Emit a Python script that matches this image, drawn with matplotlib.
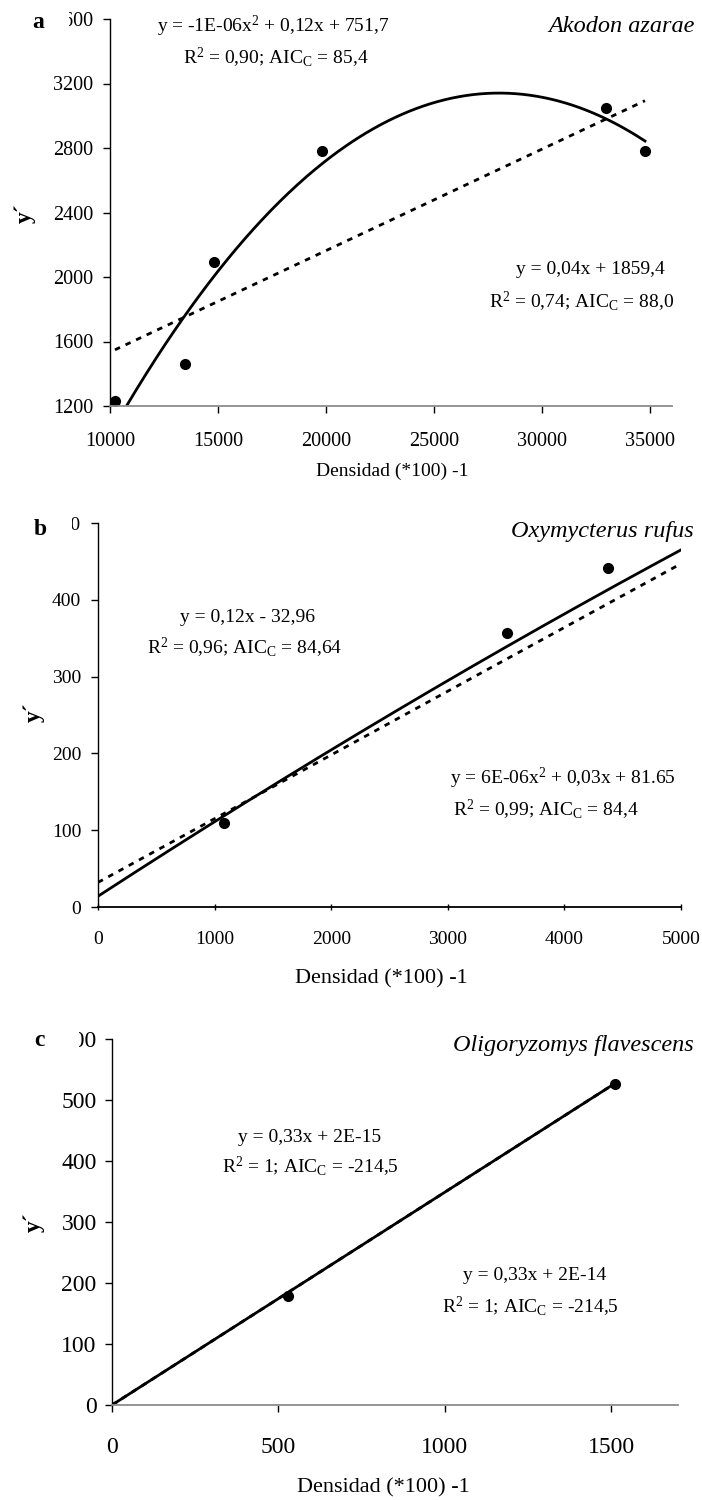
import numpy as np
import matplotlib
matplotlib.use("Agg")
import matplotlib.pyplot as plt
from matplotlib.patches import Rectangle

plt.rcParams['font.family'] = ['Liberation Serif', 'DejaVu Serif']
plt.rcParams['mathtext.fontset'] = 'custom'
plt.rcParams['mathtext.rm'] = 'Liberation Serif'
plt.rcParams['mathtext.it'] = 'Liberation Serif:italic'
plt.rcParams['mathtext.bf'] = 'Liberation Serif:bold'

# ---- Akodon azarae ----
a_x = [10230, 13470, 14830, 19800, 32950, 34750]
a_y = [1230, 1460, 2090, 2780, 3050, 2780]
a_quad = [-6.53e-6, 0.3657, -1979.5]      # solid trend (quadratic)
a_lin = [0.063, 904.0]                     # dotted trend (linear)
a_xticks = [10000, 15000, 20000, 25000, 30000, 35000]
a_yticks = [1200, 1600, 2000, 2400, 2800, 3200, 3600]

# ---- Oxymycterus rufus ----
b_x = [1080, 3510, 4375]
b_y = [110, 357, 442]
b_quad = [-1.7e-6, 0.0987, 14.0]
b_lin = [0.083, 32.0]
b_span = [0, 5000]
b_xticks = [0, 1000, 2000, 3000, 4000, 5000]
b_yticks = [0, 100, 200, 300, 400, 500]

# ---- Oligoryzomys flavescens ----
c_x = [528, 1510]
c_y = [179, 527]
c_quad = [0.0, 0.349, 0.0]
c_lin = [0.349, 0.0]
c_span = [0, 1510]
c_xticks = [0, 500, 1000, 1500]
c_yticks = [0, 100, 200, 300, 400, 500, 600]

W, H = 702, 1500
fig = plt.figure(figsize=(W / 100, H / 100), dpi=100)


def fx(px):
    return px / W


def fy(py):
    return 1 - py / H


def make_axes(l, r, t, b):
    return fig.add_axes([l / W, 1 - b / H, (r - l) / W, (b - t) / H])


def style(ax, bottom_color, xdir, xsize, ysize, xpad, ypad):
    for s in ('top', 'right'):
        ax.spines[s].set_visible(False)
    ax.spines['left'].set_linewidth(1.0)
    ax.spines['left'].set_color('black')
    ax.spines['bottom'].set_linewidth(1.3)
    ax.spines['bottom'].set_color(bottom_color)
    ax.tick_params(axis='y', direction='out', length=5, width=1, pad=ypad,
                   labelsize=ysize, colors='black')
    ax.tick_params(axis='x', direction=xdir, length=5, width=1, pad=xpad,
                   labelsize=xsize, colors='black')
    ax.set_facecolor('none')


LW = 2.0
DASH = (2.0, 2.2)

# Panel a
ax = make_axes(110, 672, 19, 406)
xs = np.linspace(min(a_x), max(a_x), 300)
ax.plot(xs, np.polyval(a_quad, xs), color='black', lw=LW)
ax.plot(xs, np.polyval(a_lin, xs), color='black', lw=LW, dashes=DASH)
ax.plot(a_x, a_y, 'o', color='black', ms=7)
ax.set_xlim(10000, 36000)
ax.set_ylim(1200, 3600)
ax.set_xticks(a_xticks)
ax.set_yticks(a_yticks)
style(ax, '#8c8c8c', 'out', 14.5, 14.5, 14, 7)

# Panel b
bx = make_axes(98, 681, 523, 907)
xs = np.linspace(b_span[0], b_span[1], 300)
bx.plot(xs, np.polyval(b_quad, xs), color='black', lw=LW)
bx.plot(xs, np.polyval(b_lin, xs), color='black', lw=LW, dashes=DASH)
bx.plot(b_x, b_y, 'o', color='black', ms=7)
bx.set_xlim(0, 5000)
bx.set_ylim(0, 500)
bx.set_xticks(b_xticks)
bx.set_yticks(b_yticks)
style(bx, 'black', 'inout', 14, 14, 15, 7)

# Panel c
cx = make_axes(112, 678, 1039, 1405)
xs = np.linspace(c_span[0], c_span[1], 300)
cx.plot(xs, np.polyval(c_lin, xs), color='black', lw=LW, dashes=DASH)
cx.plot(xs, np.polyval(c_quad, xs), color='black', lw=LW)
cx.plot(c_x, c_y, 'o', color='black', ms=7)
cx.set_xlim(0, 1700)
cx.set_ylim(0, 600)
cx.set_xticks(c_xticks)
cx.set_yticks(c_yticks)
style(cx, '#8c8c8c', 'out', 17, 17, 18, 6)

# Masks over the leading digits of the top y tick labels, then panel letters
for x0, x1, yc in [(45, 69, 19), (48, 72, 523), (50, 79, 1039)]:
    fig.patches.append(Rectangle((fx(x0), fy(yc + 13)), (x1 - x0) / W, 26 / H,
                                 transform=fig.transFigure, facecolor='white',
                                 edgecolor='none', zorder=10))
for letter, px, py in [('a', 38, 22), ('b', 40, 530), ('c', 39, 1040)]:
    fig.text(fx(px), fy(py), letter, fontsize=17, fontweight='bold',
             ha='center', va='center', zorder=11)

# y-axis labels
for px, py in [(25, 213), (34, 712), (34, 1222)]:
    fig.text(fx(px), fy(py), 'y´', rotation=90, fontsize=17, fontweight='bold',
             ha='center', va='center')

# x-axis labels
fig.text(fx(392), fy(471), 'Densidad (*100) -1', fontsize=14, ha='center', va='center')
fig.text(fx(381), fy(979), 'Densidad (*100) -1', fontsize=16, ha='center', va='center')
fig.text(fx(383), fy(1488), 'Densidad (*100) -1', fontsize=16, ha='center', va='center')

# Species names
sp = dict(fontsize=17.5, style='italic', ha='right', va='center')
fig.text(fx(695), fy(26), 'Akodon azarae', **sp)
fig.text(fx(694), fy(532), 'Oxymycterus rufus', **sp)
fig.text(fx(694), fy(1045), 'Oligoryzomys flavescens', **sp)

# Fitted equations
eql = dict(fontsize=14, ha='left', va='center')
eqc = dict(fontsize=14, ha='center', va='center')
fig.text(fx(157), fy(26), 'y = -1E-06x$^{2}$ + 0,12x + 751,7', **eql)
fig.text(fx(183), fy(58), 'R$^{2}$ = 0,90; AIC$_{\\mathrm{C}}$ = 85,4', **eql)
fig.text(fx(590), fy(270), 'y = 0,04x + 1859,4', **eqc)
fig.text(fx(582), fy(302), 'R$^{2}$ = 0,74; AIC$_{\\mathrm{C}}$ = 88,0', **eqc)

fig.text(fx(180), fy(618), 'y = 0,12x - 32,96', **eql)
fig.text(fx(147), fy(648), 'R$^{2}$ = 0,96; AIC$_{\\mathrm{C}}$ = 84,64', **eql)
fig.text(fx(450), fy(778), 'y = 6E-06x$^{2}$ + 0,03x + 81.65', **eql)
fig.text(fx(453), fy(810), 'R$^{2}$ = 0,99; AIC$_{\\mathrm{C}}$ = 84,4', **eql)

fig.text(fx(238), fy(1137), 'y = 0,33x + 2E-15', **eql)
fig.text(fx(222), fy(1167), 'R$^{2}$ = 1; AIC$_{\\mathrm{C}}$ = -214,5', **eql)
fig.text(fx(535), fy(1275), 'y = 0,33x + 2E-14', **eqc)
fig.text(fx(530), fy(1307), 'R$^{2}$ = 1; AIC$_{\\mathrm{C}}$ = -214,5', **eqc)

fig.savefig('out.png', dpi=100, facecolor='white')
